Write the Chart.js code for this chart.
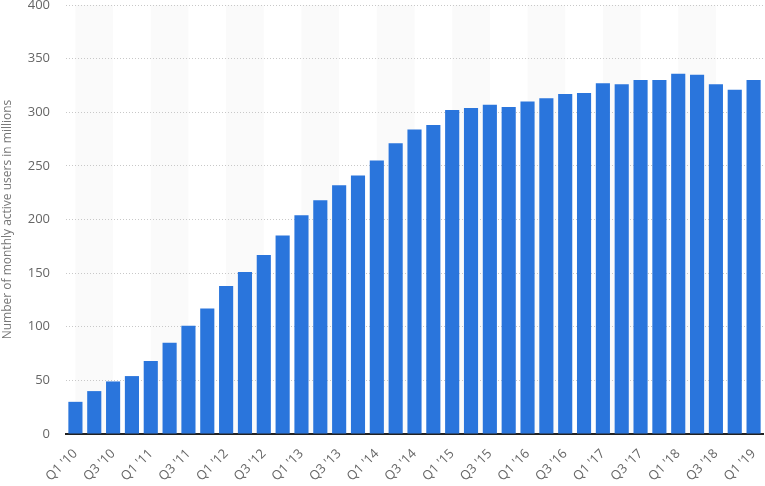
<!DOCTYPE html>
<html>
<head>
<meta charset="utf-8">
<script src="https://cdn.jsdelivr.net/npm/chart.js@4"></script>
<style>
  html, body { margin: 0; padding: 0; background: #fff; }
  #wrap { width: 765px; height: 486px; }
</style>
</head>
<body>
<div id="wrap"><canvas id="mycanvas" width="765" height="486"></canvas></div>
<script>
// quarters from Q1 2010 to Q1 2019
var quarters = ["Q1 '10","Q2 '10","Q3 '10","Q4 '10",
                "Q1 '11","Q2 '11","Q3 '11","Q4 '11",
                "Q1 '12","Q2 '12","Q3 '12","Q4 '12",
                "Q1 '13","Q2 '13","Q3 '13","Q4 '13",
                "Q1 '14","Q2 '14","Q3 '14","Q4 '14",
                "Q1 '15","Q2 '15","Q3 '15","Q4 '15",
                "Q1 '16","Q2 '16","Q3 '16","Q4 '16",
                "Q1 '17","Q2 '17","Q3 '17","Q4 '17",
                "Q1 '18","Q2 '18","Q3 '18","Q4 '18",
                "Q1 '19"];
var users = [30, 40, 49, 54,
             68, 85, 101, 117,
             138, 151, 167, 185,
             204, 218, 232, 241,
             255, 271, 284, 288,
             302, 304, 307, 305,
             310, 313, 317, 318,
             327, 326, 330, 330,
             336, 335, 326, 321,
             330];
var yTicks = [0, 50, 100, 150, 200, 250, 300, 350, 400];

// light grey stripes behind every other pair of quarters
var stripes = {
	id: 'stripes',
	beforeDraw: function(chart) {
		var ctx = chart.ctx;
		var area = chart.chartArea;
		var x = chart.scales.x;
		ctx.save();
		ctx.fillStyle = '#fafafa';
		for (var i = 0; i + 2 < quarters.length; i += 4) {
			var x0 = x.getPixelForValue(i);
			var x1 = x.getPixelForValue(i + 2);
			ctx.fillRect(x0, area.top, x1 - x0, area.bottom - area.top);
		}
		ctx.restore();
	}
};

var ctx = document.getElementById('mycanvas');
var myBarChart = new Chart(ctx, {
	type: 'bar',
	data: {
		labels: quarters,
		datasets: [{
			data: users,
			backgroundColor: '#2a75dc',
			borderWidth: 0,
			categoryPercentage: 1,
			barPercentage: 0.75
		}]
	},
	options: {
		responsive: false,
		animation: false,
		layout: { padding: { top: 5, right: 2, left: 0, bottom: 0 } },
		plugins: {
			legend: { display: false },
			tooltip: { enabled: false }
		},
		scales: {
			x: {
				grid: { display: false },
				border: { display: true, color: '#222', width: 2 },
				ticks: {
					autoSkip: false,
					maxRotation: 45,
					minRotation: 45,
					padding: 4,
					color: '#666',
					font: { family: 'Open Sans', size: 13 },
					callback: function(v, i) { return i % 2 === 0 ? quarters[i] : ''; }
				},
				afterFit: function(s) {
					s.height = 52;
					s.paddingLeft = 0;
					s.paddingRight = 0;
				}
			},
			y: {
				min: 0,
				max: 400,
				afterBuildTicks: function(s) {
					s.ticks = yTicks.map(function(v) { return { value: v }; });
				},
				grid: { color: '#c8c8c8', lineWidth: 1, drawTicks: false },
				border: { display: false, dash: [1, 2] },
				ticks: {
					padding: 16,
					color: '#666',
					font: { family: 'Open Sans', size: 13 }
				},
				title: {
					display: true,
					text: 'Number of monthly active users in millions',
					color: '#777',
					font: { family: 'Open Sans', size: 12 },
					padding: 0
				},
				afterFit: function(s) {
					s.width = 66;
					s.paddingTop = 0;
					s.paddingBottom = 0;
				}
			}
		}
	},
	plugins: [stripes]
});
</script>
</body>
</html>
